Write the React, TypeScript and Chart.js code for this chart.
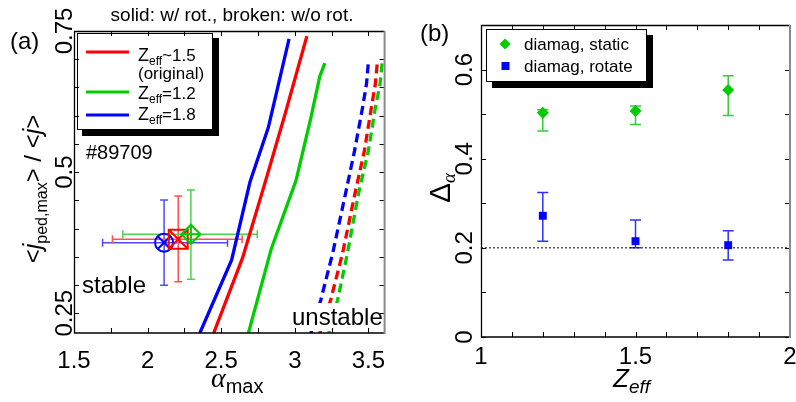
import React, { useEffect, useRef } from "react";
import { Chart, registerables } from "chart.js";
Chart.register(...registerables);

const SANS = '"Liberation Sans", Arial, Helvetica, sans-serif';
const SERIF = '"Liberation Serif", "Times New Roman", serif';

// ---------------- panel (a) data ----------------
const alphaMajorTicks = [1.5, 2, 2.5, 3, 3.5];
const alphaAllTicks = [1.5, 1.75, 2, 2.25, 2.5, 2.75, 3, 3.25, 3.5];
const jMajorTicks = [0.25, 0.5, 0.75];
const jAllTicks = [0.25, 0.3, 0.35, 0.4, 0.45, 0.5, 0.55, 0.6, 0.65, 0.7, 0.75];

// solid: with rotation
const solidRedAlpha = [2.449, 2.645, 2.793, 2.934, 3.082];
const solidRedJ = [0.215, 0.348, 0.477, 0.603, 0.741];
const solidGreenAlpha = [2.685, 2.84, 3.008, 3.109, 3.17, 3.204];
const solidGreenJ = [0.215, 0.364, 0.485, 0.596, 0.67, 0.693];
const solidBlueAlpha = [2.355, 2.571, 2.695, 2.82, 2.961];
const solidBlueJ = [0.215, 0.3445, 0.482, 0.579, 0.736];

// broken: without rotation
const dashedJ = [0.215, 0.274, 0.357, 0.4625, 0.538, 0.614, 0.656, 0.695];
const dashedBlueAlpha = [3.109, 3.177, 3.258, 3.345, 3.406, 3.46, 3.487, 3.5];
const dashedRedAlpha = [3.17, 3.244, 3.325, 3.409, 3.473, 3.52, 3.547, 3.561];
const dashedGreenAlpha = [3.231, 3.291, 3.358, 3.433, 3.5, 3.547, 3.579, 3.594];

// experimental points: Zeff=1.8 (blue), 1.5 (red), 1.2 (green)
const pointAlpha = [2.112, 2.208, 2.294];
const pointJ = [0.375, 0.381, 0.39];
const pointAlphaLow = [1.694, 1.761, 1.832];
const pointAlphaHigh = [2.543, 2.642, 2.745];
const pointJLow = [0.2995, 0.306, 0.31];
const pointJHigh = [0.4506, 0.4577, 0.4683];

const legendALabels = [
  ["Z", "eff", "~1.5"],
  ["(original)"],
  ["Z", "eff", "=1.2"],
  ["Z", "eff", "=1.8"],
];
const shotLabel = "#89709";
const titleA = "solid: w/ rot., broken: w/o rot.";

// ---------------- panel (b) data ----------------
const zeff = [1.2, 1.5, 1.8];
const staticDelta = [0.503, 0.507, 0.554];
const staticLow = [0.462, 0.477, 0.497];
const staticHigh = [0.51, 0.518, 0.586];
const rotateDelta = [0.272, 0.215, 0.206];
const rotateLow = [0.215, 0.2004, 0.173];
const rotateHigh = [0.324, 0.2625, 0.2385];
const refDelta = 0.2;
const zMajorTicks = [1, 1.5, 2];
const zAllTicks = [1, 1.1, 1.2, 1.3, 1.4, 1.5, 1.6, 1.7, 1.8, 1.9, 2];
const deltaMajorTicks = [0, 0.2, 0.4, 0.6];
const deltaAllTicks = [0, 0.1, 0.2, 0.3, 0.4, 0.5, 0.6];
const legendBLabels = ["diamag, static", "diamag, rotate"];

const RED = "#ff0000";
const GREEN = "#00cc00";
const BLUE = "#0000ff";

type Seg = { t: string; f: string; dy?: number };

function drawRich(ctx: CanvasRenderingContext2D, segs: Seg[], x: number, y: number, rotate: boolean, align: "center" | "left") {
  ctx.save();
  ctx.translate(x, y);
  if (rotate) ctx.rotate(-Math.PI / 2);
  ctx.textBaseline = "alphabetic";
  ctx.textAlign = "left";
  ctx.fillStyle = "#000";
  let total = 0;
  for (const s of segs) {
    ctx.font = s.f;
    total += ctx.measureText(s.t).width;
  }
  let cx = align === "center" ? -total / 2 : 0;
  for (const s of segs) {
    ctx.font = s.f;
    ctx.fillText(s.t, cx, s.dy || 0);
    cx += ctx.measureText(s.t).width;
  }
  ctx.restore();
}

function rotText(ctx: CanvasRenderingContext2D, text: string, x: number, y: number, font: string) {
  ctx.save();
  ctx.translate(x, y);
  ctx.rotate(-Math.PI / 2);
  ctx.font = font;
  ctx.textAlign = "center";
  ctx.textBaseline = "alphabetic";
  ctx.fillStyle = "#000";
  ctx.fillText(text, 0, 0);
  ctx.restore();
}

function drawFrame(chart: any, xTicks: number[], yTicks: number[], len: number) {
  const { ctx, chartArea: a, scales } = chart;
  const sx = scales.x;
  const sy = scales.y;
  ctx.save();
  ctx.strokeStyle = "#000";
  ctx.lineWidth = 1;
  ctx.beginPath();
  for (const v of xTicks) {
    const px = Math.round(sx.getPixelForValue(v)) + 0.5;
    ctx.moveTo(px, a.bottom);
    ctx.lineTo(px, a.bottom - len);
    ctx.moveTo(px, a.top);
    ctx.lineTo(px, a.top + len);
  }
  for (const v of yTicks) {
    const py = Math.round(sy.getPixelForValue(v)) + 0.5;
    ctx.moveTo(a.left, py);
    ctx.lineTo(a.left + len, py);
    ctx.moveTo(a.right, py);
    ctx.lineTo(a.right - len, py);
  }
  ctx.stroke();
  ctx.lineWidth = 1.3;
  ctx.beginPath();
  ctx.moveTo(a.right, a.top + 0.5);
  ctx.lineTo(a.left + 0.5, a.top + 0.5);
  ctx.lineTo(a.left + 0.5, a.bottom);
  ctx.lineTo(a.right, a.bottom);
  ctx.stroke();
  ctx.strokeStyle = "#8a8a8a";
  ctx.lineWidth = 2;
  ctx.beginPath();
  ctx.moveTo(a.right, a.top);
  ctx.lineTo(a.right, a.bottom + 1);
  ctx.stroke();
  ctx.restore();
}

function errorBarY(ctx: CanvasRenderingContext2D, x: number, y1: number, y2: number, cap: number) {
  ctx.beginPath();
  ctx.moveTo(x, y1);
  ctx.lineTo(x, y2);
  ctx.moveTo(x - cap / 2, y1);
  ctx.lineTo(x + cap / 2, y1);
  ctx.moveTo(x - cap / 2, y2);
  ctx.lineTo(x + cap / 2, y2);
  ctx.stroke();
}
function errorBarX(ctx: CanvasRenderingContext2D, y: number, x1: number, x2: number, cap: number) {
  ctx.beginPath();
  ctx.moveTo(x1, y);
  ctx.lineTo(x2, y);
  ctx.moveTo(x1, y - cap / 2);
  ctx.lineTo(x1, y + cap / 2);
  ctx.moveTo(x2, y - cap / 2);
  ctx.lineTo(x2, y + cap / 2);
  ctx.stroke();
}

const pts = (xs: number[], ys: number[]) => xs.map((v, i) => ({ x: v, y: ys[i] }));

function configA(): any {
  const barColors = ["#4d4dff", "#ff5050", "#4cd24c"];
  const plugin = {
    id: "panelA",
    beforeDatasetsDraw(chart: any) {
      const { ctx, scales } = chart;
      const sx = scales.x;
      const sy = scales.y;
      ctx.save();
      ctx.lineWidth = 1.5;
      for (let i = 0; i < pointAlpha.length; i++) {
        ctx.strokeStyle = barColors[i];
        const px = sx.getPixelForValue(pointAlpha[i]);
        const py = sy.getPixelForValue(pointJ[i]);
        errorBarX(ctx, py, sx.getPixelForValue(pointAlphaLow[i]), sx.getPixelForValue(pointAlphaHigh[i]), 8);
        errorBarY(ctx, px, sy.getPixelForValue(pointJLow[i]), sy.getPixelForValue(pointJHigh[i]), 8);
      }
      ctx.restore();
    },
    afterDatasetsDraw(chart: any) {
      const { ctx } = chart;
      ctx.save();
      // "unstable" label with white background
      ctx.fillStyle = "#fff";
      ctx.fillRect(290, 303, 96, 28);
      ctx.fillStyle = "#000";
      ctx.font = `24px ${SANS}`;
      ctx.textAlign = "left";
      ctx.textBaseline = "alphabetic";
      ctx.fillText("unstable", 292, 325);
      ctx.fillText("stable", 82, 293);
      ctx.font = `20px ${SANS}`;
      ctx.fillText(shotLabel, 86, 159);
      // legend
      ctx.fillStyle = "#000";
      ctx.fillRect(82, 38, 137, 98);
      ctx.fillStyle = "#fff";
      ctx.fillRect(77, 33, 136, 97);
      ctx.strokeStyle = "#000";
      ctx.lineWidth = 1;
      ctx.strokeRect(77.5, 33.5, 135, 96);
      const lineColors = [RED, null, GREEN, BLUE];
      const lineY = [52, 0, 92, 115];
      const baseY = [61, 79, 99, 120];
      for (let i = 0; i < legendALabels.length; i++) {
        const c = lineColors[i];
        if (c) {
          ctx.strokeStyle = c;
          ctx.lineWidth = 3;
          ctx.beginPath();
          ctx.moveTo(86, lineY[i]);
          ctx.lineTo(129, lineY[i]);
          ctx.stroke();
        }
        const lab = legendALabels[i];
        if (lab.length === 3) {
          drawRich(ctx, [
            { t: lab[0], f: `18px ${SANS}` },
            { t: lab[1], f: `12px ${SANS}`, dy: 4 },
            { t: lab[2], f: `17px ${SANS}` },
          ], 138, baseY[i], false, "left");
        } else {
          ctx.fillStyle = "#000";
          ctx.font = `17px ${SANS}`;
          ctx.fillText(lab[0], 138, baseY[i]);
        }
      }
      ctx.restore();
    },
    afterDraw(chart: any) {
      const { ctx, scales } = chart;
      drawFrame(chart, alphaAllTicks, jAllTicks, 5);
      ctx.save();
      ctx.fillStyle = "#000";
      ctx.font = `24px ${SANS}`;
      ctx.textAlign = "center";
      ctx.textBaseline = "alphabetic";
      for (const v of alphaMajorTicks) ctx.fillText(String(v), scales.x.getPixelForValue(v), 368);
      for (const v of jMajorTicks) rotText(ctx, String(v), 72, scales.y.getPixelForValue(v), `24px ${SANS}`);
      ctx.font = `19px ${SANS}`;
      ctx.fillText(titleA, 232, 21);
      ctx.font = `24px ${SANS}`;
      ctx.textAlign = "left";
      ctx.fillText("(a)", 10, 49);
      ctx.restore();
      drawRich(ctx, [
        { t: "\u03b1", f: `italic 28px ${SERIF}` },
        { t: "max", f: `20px ${SANS}`, dy: 6 },
      ], 211, 387, false, "left");
      drawRich(ctx, [
        { t: "<", f: `24px ${SANS}` },
        { t: "j", f: `italic 25px ${SANS}` },
        { t: "ped,max", f: `16px ${SANS}`, dy: 6 },
        { t: "> / <", f: `24px ${SANS}` },
        { t: "j", f: `italic 25px ${SANS}` },
        { t: ">", f: `24px ${SANS}` },
      ], 41, 189, true, "center");
    },
  };
  const line = (data: any, color: string, dashed: boolean) => ({
    type: "line",
    data,
    showLine: true,
    borderColor: color,
    borderWidth: 3.3,
    borderDash: dashed ? [9, 5] : [],
    pointRadius: 0,
    tension: 0,
    fill: false,
  });
  const marker = (i: number, style: string, r: number, color: string) => ({
    type: "scatter",
    data: [{ x: pointAlpha[i], y: pointJ[i] }],
    pointStyle: style,
    pointRadius: r,
    pointBorderColor: color,
    pointBackgroundColor: "rgba(0,0,0,0)",
    pointBorderWidth: 2,
  });
  return {
    type: "scatter",
    data: {
      datasets: [
        line(pts(solidGreenAlpha, solidGreenJ), GREEN, false),
        line(pts(solidRedAlpha, solidRedJ), RED, false),
        line(pts(solidBlueAlpha, solidBlueJ), BLUE, false),
        line(pts(dashedGreenAlpha, dashedJ), GREEN, true),
        line(pts(dashedRedAlpha, dashedJ), RED, true),
        line(pts(dashedBlueAlpha, dashedJ), BLUE, true),
        marker(2, "rectRot", 9.5, GREEN),
        marker(2, "cross", 9.5, GREEN),
        marker(1, "rect", 13.4, RED),
        marker(1, "crossRot", 13.4, RED),
        marker(0, "circle", 9, BLUE),
        marker(0, "crossRot", 9, BLUE),
      ],
    },
    options: {
      animation: false,
      responsive: false,
      devicePixelRatio: 1,
      layout: { padding: { left: 74, right: 13, top: 31, bottom: 69 } },
      scales: {
        x: { type: "linear", min: 1.5, max: 3.61, display: false },
        y: { type: "linear", min: 0.215, max: 0.75, display: false },
      },
      plugins: { legend: { display: false }, tooltip: { enabled: false } },
      events: [],
    },
    plugins: [plugin],
  };
}

function configB(): any {
  const plugin = {
    id: "panelB",
    beforeDatasetsDraw(chart: any) {
      const { ctx, scales } = chart;
      const sx = scales.x;
      const sy = scales.y;
      ctx.save();
      ctx.lineWidth = 1.5;
      for (let i = 0; i < zeff.length; i++) {
        const px = sx.getPixelForValue(zeff[i]);
        ctx.strokeStyle = "#33cc33";
        errorBarY(ctx, px, sy.getPixelForValue(staticLow[i]), sy.getPixelForValue(staticHigh[i]), 11);
        ctx.strokeStyle = "#3030ff";
        errorBarY(ctx, px, sy.getPixelForValue(rotateLow[i]), sy.getPixelForValue(rotateHigh[i]), 11);
      }
      ctx.restore();
    },
    afterDatasetsDraw(chart: any) {
      const { ctx } = chart;
      ctx.save();
      ctx.fillStyle = "#000";
      ctx.fillRect(92, 35, 161, 53);
      ctx.fillStyle = "#fff";
      ctx.fillRect(86, 29, 161, 53);
      ctx.strokeStyle = "#000";
      ctx.lineWidth = 1;
      ctx.strokeRect(86.5, 29.5, 160, 52);
      // markers
      ctx.fillStyle = GREEN;
      ctx.beginPath();
      ctx.moveTo(105, 38.5);
      ctx.lineTo(110.5, 44);
      ctx.lineTo(105, 49.5);
      ctx.lineTo(99.5, 44);
      ctx.closePath();
      ctx.fill();
      ctx.fillStyle = BLUE;
      ctx.fillRect(101.5, 62, 8, 8);
      ctx.fillStyle = "#000";
      ctx.font = `17px ${SANS}`;
      ctx.textAlign = "left";
      ctx.textBaseline = "alphabetic";
      ctx.fillText(legendBLabels[0], 124, 50);
      ctx.fillText(legendBLabels[1], 124, 72);
      ctx.restore();
    },
    afterDraw(chart: any) {
      const { ctx, scales } = chart;
      drawFrame(chart, zAllTicks, deltaAllTicks, 5);
      ctx.save();
      ctx.fillStyle = "#000";
      ctx.font = `24px ${SANS}`;
      ctx.textAlign = "center";
      ctx.textBaseline = "alphabetic";
      for (const v of zMajorTicks) ctx.fillText(String(v), scales.x.getPixelForValue(v), 364);
      for (const v of deltaMajorTicks) rotText(ctx, String(v), 72, scales.y.getPixelForValue(v), `24px ${SANS}`);
      ctx.textAlign = "left";
      ctx.fillText("(b)", 20, 41);
      ctx.restore();
      drawRich(ctx, [
        { t: "Z", f: `italic 26px ${SANS}` },
        { t: "eff", f: `italic 19px ${SANS}`, dy: 6 },
      ], 213, 387, false, "left");
      drawRich(ctx, [
        { t: "\u0394", f: `30px ${SANS}` },
        { t: "\u03b1", f: `italic 19px ${SERIF}`, dy: 5 },
      ], 50, 188, true, "center");
    },
  };
  return {
    type: "scatter",
    data: {
      datasets: [
        {
          type: "line",
          data: [{ x: 1, y: refDelta }, { x: 2, y: refDelta }],
          borderColor: "#000",
          borderWidth: 1,
          borderDash: [2, 2],
          pointRadius: 0,
          showLine: true,
        },
        {
          type: "scatter",
          data: pts(zeff, staticDelta),
          pointStyle: "rectRot",
          pointRadius: 6,
          pointBackgroundColor: GREEN,
          pointBorderColor: GREEN,
          pointBorderWidth: 0,
        },
        {
          type: "scatter",
          data: pts(zeff, rotateDelta),
          pointStyle: "rect",
          pointRadius: 5.6,
          pointBackgroundColor: BLUE,
          pointBorderColor: BLUE,
          pointBorderWidth: 0,
        },
      ],
    },
    options: {
      animation: false,
      responsive: false,
      devicePixelRatio: 1,
      layout: { padding: { left: 81, right: 3, top: 25, bottom: 65 } },
      scales: {
        x: { type: "linear", min: 1, max: 2, display: false },
        y: { type: "linear", min: 0, max: 0.7, display: false },
      },
      plugins: { legend: { display: false }, tooltip: { enabled: false } },
      events: [],
    },
    plugins: [plugin],
  };
}

export default function App() {
  const refA = useRef<HTMLCanvasElement>(null);
  const refB = useRef<HTMLCanvasElement>(null);
  useEffect(() => {
    const a = new Chart(refA.current as HTMLCanvasElement, configA());
    const b = new Chart(refB.current as HTMLCanvasElement, configB());
    return () => {
      a.destroy();
      b.destroy();
    };
  }, []);
  return (
    <div style={{ position: "absolute", left: 0, top: 0, width: 796, height: 402, background: "#fff", overflow: "hidden" }}>
      <canvas ref={refA} width={400} height={402} style={{ position: "absolute", left: 0, top: 0, width: 400, height: 402 }} />
      <canvas ref={refB} width={396} height={402} style={{ position: "absolute", left: 400, top: 0, width: 396, height: 402 }} />
    </div>
  );
}
